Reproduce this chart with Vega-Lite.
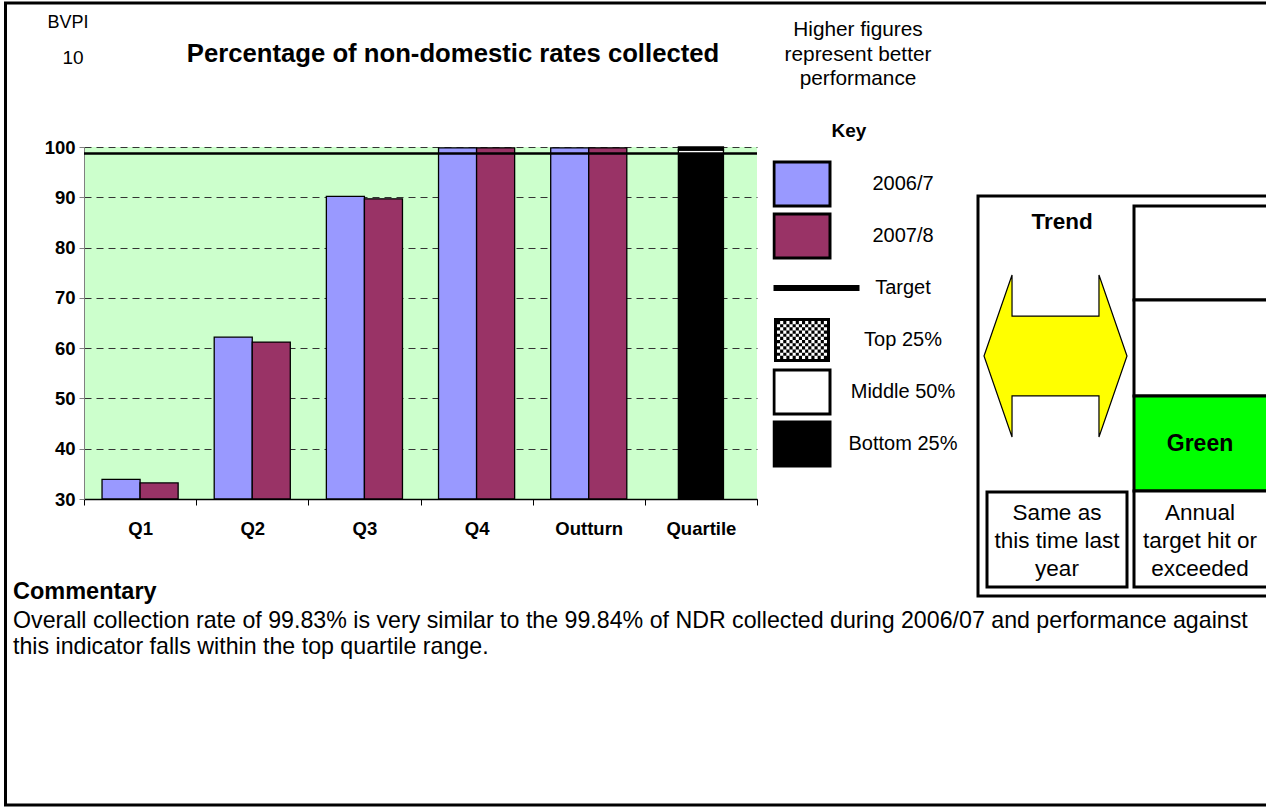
{
  "$schema": "https://vega.github.io/schema/vega-lite/v6.json",
  "width": 673,
  "height": 352,
  "autosize": {"type": "none"},
  "padding": {"left": 84, "top": 147, "right": 509, "bottom": 310},
  "background": "white",
  "view": {"fill": "#CCFFCC", "stroke": null},
  "config": {
    "font": "Liberation Sans",
    "view": {"fill": "#CCFFCC", "stroke": null}
  },
  "datasets": {
    "collection": [
      {"period": "Q1", "series": "2006/7", "value": 33.9},
      {"period": "Q1", "series": "2007/8", "value": 33.2},
      {"period": "Q2", "series": "2006/7", "value": 62.2},
      {"period": "Q2", "series": "2007/8", "value": 61.2},
      {"period": "Q3", "series": "2006/7", "value": 90.2},
      {"period": "Q3", "series": "2007/8", "value": 89.7},
      {"period": "Q4", "series": "2006/7", "value": 99.84},
      {"period": "Q4", "series": "2007/8", "value": 99.83},
      {"period": "Outturn", "series": "2006/7", "value": 99.84},
      {"period": "Outturn", "series": "2007/8", "value": 99.83}
    ],
    "quartiles": [
      {"period": "Quartile", "series": "Bottom 25%", "start": 30, "end": 98.7},
      {"period": "Quartile", "series": "Middle 50%", "start": 98.7, "end": 99.4},
      {"period": "Quartile", "series": "Top 25%", "start": 99.4, "end": 100}
    ],
    "target": [{"series": "Target", "value": 98.7}]
  },
  "layer": [
    {
      "layer": [
        {
          "data": {"name": "collection"},
          "mark": {"type": "bar", "stroke": "black", "strokeWidth": 1.3},
          "encoding": {
            "x": {
              "field": "period", "type": "nominal",
              "scale": {"domain": ["Q1", "Q2", "Q3", "Q4", "Outturn", "Quartile"], "paddingInner": 0, "paddingOuter": 0},
              "axis": {"title": null, "labelAngle": 0, "labelFontWeight": "bold", "labelFontSize": 18.5, "labelColor": "black", "labelPadding": 14, "tickBand": "extent", "tickSize": 6, "tickColor": "black", "domainColor": "black", "domainWidth": 1.5, "grid": false}
            },
            "xOffset": {
              "field": "series", "type": "nominal",
              "scale": {"domain": ["2006/7", "2007/8"], "paddingInner": 0, "paddingOuter": 0.474}
            },
            "y": {
              "field": "value", "type": "quantitative",
              "scale": {"domain": [30, 100], "nice": false, "zero": false},
              "axis": {"title": null, "values": [30, 40, 50, 60, 70, 80, 90, 100], "labelFontWeight": "bold", "labelFontSize": 18.5, "labelColor": "black", "labelPadding": 4, "tickSize": 5, "tickColor": "#808080", "domainColor": "#808080", "domainWidth": 1, "grid": true, "gridColor": "#333333", "gridDash": [7, 5], "gridWidth": 1}
            },
            "y2": {"datum": 30},
            "color": {
              "field": "series", "type": "nominal",
              "scale": {
                "domain": ["2006/7", "2007/8", "Target", "Top 25%", "Middle 50%", "Bottom 25%"],
                "range": ["#9999FF", "#993366", "#000000", "#000000", "#FFFFFF", "#000000"]
              },
              "legend": {"orient": "none", "legendX": 688.5, "legendY": 11, "title": null, "symbolSize": 3136, "labelFontSize": 20, "labelColor": "black", "labelAlign": "center", "labelOffset": 71.5, "rowPadding": 0, "clipHeight": 52, "padding": 0, "symbolStrokeWidth": 3, "symbolStrokeColor": "black", "symbolOpacity": 1, "labelLimit": 300,
                "encode": {"symbols": {"update": {"stroke": {"signal": "datum.value === 'Top 25%' ? 'transparent' : 'black'"}}}}}
            }
          }
        },
        {
          "data": {"name": "quartiles"},
          "mark": {"type": "bar", "stroke": "black", "strokeWidth": 1.3, "width": {"band": 0.402}},
          "encoding": {
            "x": {"field": "period", "type": "nominal"},
            "y": {"field": "start", "type": "quantitative"},
            "y2": {"field": "end"},
            "color": {"field": "series", "type": "nominal"}
          }
        },
        {
          "data": {"name": "target"},
          "mark": {"type": "rule", "stroke": "black", "strokeWidth": 2.5},
          "encoding": {"y": {"field": "value", "type": "quantitative"}}
        },
        {
          "data": {"values": []},
          "mark": {"type": "point", "filled": true, "opacity": 1, "stroke": "black", "strokeWidth": 3},
          "encoding": {
            "color": {"field": "series", "type": "nominal"},
            "shape": {
              "field": "series", "type": "nominal",
              "scale": {
                "domain": ["2006/7", "2007/8", "Target", "Top 25%", "Middle 50%", "Bottom 25%"],
                "range": [
                  "M-1,-0.786H1V0.786H-1Z",
                  "M-1,-0.786H1V0.786H-1Z",
                  "M-0.964,-0.05H2V0.05H-0.964Z",
                  "M-1,-0.786H1V0.786H-1ZM-0.893,-0.679V0.679H0.893V-0.679ZM-0.893,-0.679h0.1116v0.1132h-0.1116v-0.1132zm0.2232,0h0.1116v0.1132h-0.1116v-0.1132zm0.2232,0h0.1116v0.1132h-0.1116v-0.1132zm0.2232,0h0.1116v0.1132h-0.1116v-0.1132zm0.2232,0h0.1116v0.1132h-0.1116v-0.1132zm0.2232,0h0.1116v0.1132h-0.1116v-0.1132zm0.2232,0h0.1116v0.1132h-0.1116v-0.1132zm0.2232,0h0.1116v0.1132h-0.1116v-0.1132zm-1.4508,0.1132h0.1116v0.1132h-0.1116v-0.1132zm0.2232,0h0.1116v0.1132h-0.1116v-0.1132zm0.2232,0h0.1116v0.1132h-0.1116v-0.1132zm0.2232,0h0.1116v0.1132h-0.1116v-0.1132zm0.2232,0h0.1116v0.1132h-0.1116v-0.1132zm0.2232,0h0.1116v0.1132h-0.1116v-0.1132zm0.2232,0h0.1116v0.1132h-0.1116v-0.1132zm0.2232,0h0.1116v0.1132h-0.1116v-0.1132zm-1.674,0.1132h0.1116v0.1132h-0.1116v-0.1132zm0.2232,0h0.1116v0.1132h-0.1116v-0.1132zm0.2232,0h0.1116v0.1132h-0.1116v-0.1132zm0.2232,0h0.1116v0.1132h-0.1116v-0.1132zm0.2232,0h0.1116v0.1132h-0.1116v-0.1132zm0.2232,0h0.1116v0.1132h-0.1116v-0.1132zm0.2232,0h0.1116v0.1132h-0.1116v-0.1132zm0.2232,0h0.1116v0.1132h-0.1116v-0.1132zm-1.4508,0.1132h0.1116v0.1132h-0.1116v-0.1132zm0.2232,0h0.1116v0.1132h-0.1116v-0.1132zm0.2232,0h0.1116v0.1132h-0.1116v-0.1132zm0.2232,0h0.1116v0.1132h-0.1116v-0.1132zm0.2232,0h0.1116v0.1132h-0.1116v-0.1132zm0.2232,0h0.1116v0.1132h-0.1116v-0.1132zm0.2232,0h0.1116v0.1132h-0.1116v-0.1132zm0.2232,0h0.1116v0.1132h-0.1116v-0.1132zm-1.674,0.1132h0.1116v0.1132h-0.1116v-0.1132zm0.2232,0h0.1116v0.1132h-0.1116v-0.1132zm0.2232,0h0.1116v0.1132h-0.1116v-0.1132zm0.2232,0h0.1116v0.1132h-0.1116v-0.1132zm0.2232,0h0.1116v0.1132h-0.1116v-0.1132zm0.2232,0h0.1116v0.1132h-0.1116v-0.1132zm0.2232,0h0.1116v0.1132h-0.1116v-0.1132zm0.2232,0h0.1116v0.1132h-0.1116v-0.1132zm-1.4508,0.1132h0.1116v0.1132h-0.1116v-0.1132zm0.2232,0h0.1116v0.1132h-0.1116v-0.1132zm0.2232,0h0.1116v0.1132h-0.1116v-0.1132zm0.2232,0h0.1116v0.1132h-0.1116v-0.1132zm0.2232,0h0.1116v0.1132h-0.1116v-0.1132zm0.2232,0h0.1116v0.1132h-0.1116v-0.1132zm0.2232,0h0.1116v0.1132h-0.1116v-0.1132zm0.2232,0h0.1116v0.1132h-0.1116v-0.1132zm-1.674,0.1132h0.1116v0.1132h-0.1116v-0.1132zm0.2232,0h0.1116v0.1132h-0.1116v-0.1132zm0.2232,0h0.1116v0.1132h-0.1116v-0.1132zm0.2232,0h0.1116v0.1132h-0.1116v-0.1132zm0.2232,0h0.1116v0.1132h-0.1116v-0.1132zm0.2232,0h0.1116v0.1132h-0.1116v-0.1132zm0.2232,0h0.1116v0.1132h-0.1116v-0.1132zm0.2232,0h0.1116v0.1132h-0.1116v-0.1132zm-1.4508,0.1132h0.1116v0.1132h-0.1116v-0.1132zm0.2232,0h0.1116v0.1132h-0.1116v-0.1132zm0.2232,0h0.1116v0.1132h-0.1116v-0.1132zm0.2232,0h0.1116v0.1132h-0.1116v-0.1132zm0.2232,0h0.1116v0.1132h-0.1116v-0.1132zm0.2232,0h0.1116v0.1132h-0.1116v-0.1132zm0.2232,0h0.1116v0.1132h-0.1116v-0.1132zm0.2232,0h0.1116v0.1132h-0.1116v-0.1132zm-1.674,0.1132h0.1116v0.1132h-0.1116v-0.1132zm0.2232,0h0.1116v0.1132h-0.1116v-0.1132zm0.2232,0h0.1116v0.1132h-0.1116v-0.1132zm0.2232,0h0.1116v0.1132h-0.1116v-0.1132zm0.2232,0h0.1116v0.1132h-0.1116v-0.1132zm0.2232,0h0.1116v0.1132h-0.1116v-0.1132zm0.2232,0h0.1116v0.1132h-0.1116v-0.1132zm0.2232,0h0.1116v0.1132h-0.1116v-0.1132zm-1.4508,0.1132h0.1116v0.1132h-0.1116v-0.1132zm0.2232,0h0.1116v0.1132h-0.1116v-0.1132zm0.2232,0h0.1116v0.1132h-0.1116v-0.1132zm0.2232,0h0.1116v0.1132h-0.1116v-0.1132zm0.2232,0h0.1116v0.1132h-0.1116v-0.1132zm0.2232,0h0.1116v0.1132h-0.1116v-0.1132zm0.2232,0h0.1116v0.1132h-0.1116v-0.1132zm0.2232,0h0.1116v0.1132h-0.1116v-0.1132zm-1.674,0.1132h0.1116v0.1132h-0.1116v-0.1132zm0.2232,0h0.1116v0.1132h-0.1116v-0.1132zm0.2232,0h0.1116v0.1132h-0.1116v-0.1132zm0.2232,0h0.1116v0.1132h-0.1116v-0.1132zm0.2232,0h0.1116v0.1132h-0.1116v-0.1132zm0.2232,0h0.1116v0.1132h-0.1116v-0.1132zm0.2232,0h0.1116v0.1132h-0.1116v-0.1132zm0.2232,0h0.1116v0.1132h-0.1116v-0.1132zm-1.4508,0.1132h0.1116v0.1132h-0.1116v-0.1132zm0.2232,0h0.1116v0.1132h-0.1116v-0.1132zm0.2232,0h0.1116v0.1132h-0.1116v-0.1132zm0.2232,0h0.1116v0.1132h-0.1116v-0.1132zm0.2232,0h0.1116v0.1132h-0.1116v-0.1132zm0.2232,0h0.1116v0.1132h-0.1116v-0.1132zm0.2232,0h0.1116v0.1132h-0.1116v-0.1132zm0.2232,0h0.1116v0.1132h-0.1116v-0.1132z",
                  "M-1,-0.786H1V0.786H-1Z",
                  "M-1,-0.786H1V0.786H-1Z"
                ]
              },
              "legend": {"orient": "none", "legendX": 688.5, "legendY": 11, "title": null, "symbolSize": 3136, "labelFontSize": 20, "labelColor": "black", "labelAlign": "center", "labelOffset": 71.5, "rowPadding": 0, "clipHeight": 52, "padding": 0, "symbolStrokeWidth": 3, "symbolStrokeColor": "black", "symbolOpacity": 1, "labelLimit": 300,
                "encode": {"symbols": {"update": {"stroke": {"signal": "datum.value === 'Top 25%' ? 'transparent' : 'black'"}}}}}
            }
          }
        }
      ]
    },
    {
      "data": {"values": [{}]},
      "layer": [
        {
          "mark": {"type": "rect", "filled": false, "stroke": "black", "strokeWidth": 3},
          "encoding": {
            "x": {"datum": 5.5, "type": "quantitative", "scale": {"domain": [0, 1266], "range": [-84, 1182], "nice": false, "zero": false}, "axis": null},
            "x2": {"datum": 1275},
            "y": {"datum": 3, "type": "quantitative", "scale": {"domain": [0, 809], "range": [-147, 662], "nice": false, "zero": false}, "axis": null},
            "y2": {"datum": 805}
          }
        },
        {
          "mark": {"type": "rect", "fill": "white", "stroke": "black", "strokeWidth": 3},
          "encoding": {
            "x": {"datum": 978, "type": "quantitative", "axis": null},
            "x2": {"datum": 1275},
            "y": {"datum": 196, "type": "quantitative", "axis": null},
            "y2": {"datum": 596}
          }
        },
        {
          "mark": {"type": "rect", "fill": "white", "stroke": "black", "strokeWidth": 3},
          "encoding": {
            "x": {"datum": 1134, "type": "quantitative", "axis": null},
            "x2": {"datum": 1275},
            "y": {"datum": 206, "type": "quantitative", "axis": null},
            "y2": {"datum": 300}
          }
        },
        {
          "mark": {"type": "rect", "fill": "white", "stroke": "black", "strokeWidth": 3},
          "encoding": {
            "x": {"datum": 1134, "type": "quantitative", "axis": null},
            "x2": {"datum": 1275},
            "y": {"datum": 300, "type": "quantitative", "axis": null},
            "y2": {"datum": 396}
          }
        },
        {
          "mark": {"type": "rect", "fill": "#00FF00", "stroke": "black", "strokeWidth": 3},
          "encoding": {
            "x": {"datum": 1134, "type": "quantitative", "axis": null},
            "x2": {"datum": 1275},
            "y": {"datum": 396, "type": "quantitative", "axis": null},
            "y2": {"datum": 491}
          }
        },
        {
          "mark": {"type": "rect", "fill": "white", "stroke": "black", "strokeWidth": 3},
          "encoding": {
            "x": {"datum": 1134, "type": "quantitative", "axis": null},
            "x2": {"datum": 1275},
            "y": {"datum": 491, "type": "quantitative", "axis": null},
            "y2": {"datum": 587}
          }
        },
        {
          "mark": {"type": "rect", "fill": "white", "stroke": "black", "strokeWidth": 3},
          "encoding": {
            "x": {"datum": 987, "type": "quantitative", "axis": null},
            "x2": {"datum": 1127},
            "y": {"datum": 492, "type": "quantitative", "axis": null},
            "y2": {"datum": 587}
          }
        },
        {
          "mark": {"type": "point", "shape": "M-1,0L-0.608,-1.133L-0.608,-0.559L0.608,-0.559L0.608,-1.133L1,0L0.608,1.133L0.608,0.559L-0.608,0.559L-0.608,1.133Z", "size": 20449, "filled": true, "fill": "#FFFF00", "stroke": "black", "strokeWidth": 1.2, "opacity": 1},
          "encoding": {
            "x": {"datum": 1055.5, "type": "quantitative", "axis": null},
            "y": {"datum": 356, "type": "quantitative", "axis": null}
          }
        },
        {
          "mark": {"type": "text", "text": "BVPI", "fontSize": 18, "align": "center", "baseline": "middle", "color": "black"},
          "encoding": {
            "x": {"datum": 68, "type": "quantitative", "axis": null},
            "y": {"datum": 23, "type": "quantitative", "axis": null}
          }
        },
        {
          "mark": {"type": "text", "text": "10", "fontSize": 19, "align": "center", "baseline": "middle", "color": "black"},
          "encoding": {
            "x": {"datum": 73, "type": "quantitative", "axis": null},
            "y": {"datum": 58, "type": "quantitative", "axis": null}
          }
        },
        {
          "mark": {"type": "text", "text": "Percentage of non-domestic rates collected", "fontSize": 25.7, "fontWeight": "bold", "align": "center", "baseline": "middle", "color": "black"},
          "encoding": {
            "x": {"datum": 453, "type": "quantitative", "axis": null},
            "y": {"datum": 54, "type": "quantitative", "axis": null}
          }
        },
        {
          "mark": {"type": "text", "text": ["Higher figures", "represent better", "performance"], "lineHeight": 24.5, "fontSize": 20.8, "align": "center", "baseline": "middle", "color": "black"},
          "encoding": {
            "x": {"datum": 858, "type": "quantitative", "axis": null},
            "y": {"datum": 30, "type": "quantitative", "axis": null}
          }
        },
        {
          "mark": {"type": "text", "text": "Key", "fontSize": 19, "fontWeight": "bold", "align": "center", "baseline": "middle", "color": "black"},
          "encoding": {
            "x": {"datum": 849, "type": "quantitative", "axis": null},
            "y": {"datum": 131, "type": "quantitative", "axis": null}
          }
        },
        {
          "mark": {"type": "text", "text": "Trend", "fontSize": 22.5, "fontWeight": "bold", "align": "center", "baseline": "middle", "color": "black"},
          "encoding": {
            "x": {"datum": 1062, "type": "quantitative", "axis": null},
            "y": {"datum": 222, "type": "quantitative", "axis": null}
          }
        },
        {
          "mark": {"type": "text", "text": "Green", "fontSize": 23, "fontWeight": "bold", "align": "center", "baseline": "middle", "color": "black"},
          "encoding": {
            "x": {"datum": 1200, "type": "quantitative", "axis": null},
            "y": {"datum": 444, "type": "quantitative", "axis": null}
          }
        },
        {
          "mark": {"type": "text", "text": ["Same as", "this time last", "year"], "lineHeight": 28, "fontSize": 22.5, "align": "center", "baseline": "middle", "color": "black"},
          "encoding": {
            "x": {"datum": 1057, "type": "quantitative", "axis": null},
            "y": {"datum": 513, "type": "quantitative", "axis": null}
          }
        },
        {
          "mark": {"type": "text", "text": ["Annual", "target hit or", "exceeded"], "lineHeight": 28, "fontSize": 22.5, "align": "center", "baseline": "middle", "color": "black"},
          "encoding": {
            "x": {"datum": 1200, "type": "quantitative", "axis": null},
            "y": {"datum": 513, "type": "quantitative", "axis": null}
          }
        },
        {
          "mark": {"type": "text", "text": "Commentary", "fontSize": 23.5, "fontWeight": "bold", "align": "left", "baseline": "middle", "color": "black"},
          "encoding": {
            "x": {"datum": 13, "type": "quantitative", "axis": null},
            "y": {"datum": 592, "type": "quantitative", "axis": null}
          }
        },
        {
          "mark": {"type": "text", "text": ["Overall collection rate of 99.83% is very similar to the 99.84% of NDR collected during 2006/07 and performance against", "this indicator falls within the top quartile range."], "lineHeight": 26, "fontSize": 23.2, "align": "left", "baseline": "middle", "color": "black"},
          "encoding": {
            "x": {"datum": 13, "type": "quantitative", "axis": null},
            "y": {"datum": 621, "type": "quantitative", "axis": null}
          }
        }
      ]
    }
  ],
  "resolve": {"scale": {"x": "independent", "y": "independent"}}
}
